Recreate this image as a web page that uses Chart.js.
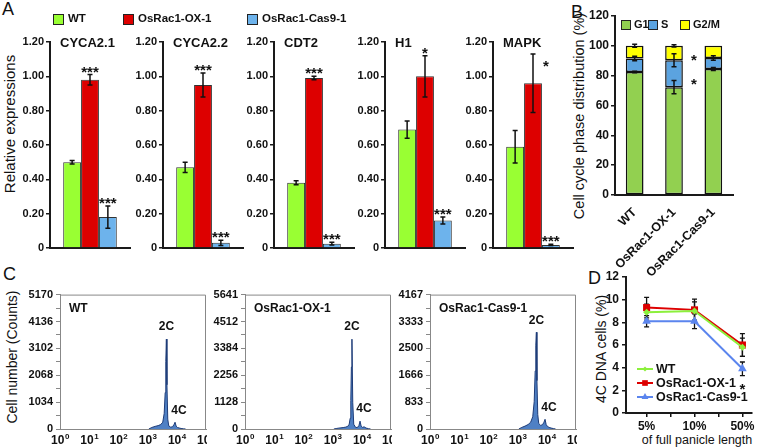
<!DOCTYPE html>
<html><head><meta charset="utf-8">
<script src="https://cdn.jsdelivr.net/npm/chart.js@4.4.1/dist/chart.umd.min.js"></script>
<style>
html,body{margin:0;padding:0;background:#fff}
body{width:757px;height:447px;position:relative;overflow:hidden;font-family:"Liberation Sans",Arial,Helvetica,sans-serif;color:#111}
.lbl{position:absolute;white-space:nowrap;line-height:1}
.rot{position:absolute;white-space:nowrap;line-height:1;transform:translate(-50%,-50%) rotate(-90deg)}
.ctr{position:absolute;white-space:nowrap;line-height:1;transform:translate(-50%,-50%)}
canvas{position:absolute}
</style></head><body>
<div class="lbl" style="left:2px;top:0px;font-size:18px">A</div>
<div class="lbl" style="left:571px;top:3px;font-size:18px">B</div>
<div class="lbl" style="left:3px;top:265px;font-size:18px">C</div>
<div class="lbl" style="left:588px;top:269px;font-size:18px">D</div>
<div class="rot" style="left:9px;top:124px;font-size:15px">Relative expressions</div>
<div class="rot" style="left:579px;top:116px;font-size:14.5px">Cell cycle phase distribution (%)</div>
<div class="rot" style="left:12px;top:357px;font-size:14px">Cell number (Counts)</div>
<div class="rot" style="left:601px;top:349px;font-size:14px">4C DNA cells (%)</div>
<div class="ctr" style="left:697px;top:440px;font-size:12.5px">of full panicle length</div>
<script>
// ---------------- DATA ----------------
const genes = ['CYCA2.1','CYCA2.2','CDT2','H1','MAPK'];
const lineNames = ['WT','OsRac1-OX-1','OsRac1-Cas9-1'];
const wtExpr  = [0.50, 0.47, 0.38, 0.69, 0.59];
const wtErr   = [0.01, 0.03, 0.012, 0.05, 0.095];
const oxExpr  = [0.98, 0.95, 0.99, 1.00, 0.96];
const oxErr   = [0.03, 0.07, 0.01, 0.12, 0.17];
const casExpr = [0.18, 0.03, 0.025, 0.16, 0.018];
const casErr  = [0.065, 0.015, 0.008, 0.02, 0.004];
const oxSig   = ['***','***','***','*','*'];
const casSig  = ['***','***','***','***','***'];
const exprTicks = [0, 0.2, 0.4, 0.6, 0.8, 1.0, 1.2];

const phaseLines = ['WT','OsRac1-OX-1','OsRac1-Cas9-1'];
const phaseNames = ['G1','S','G2/M'];
const g1Pct  = [82.5, 72.3, 84.5];
const sPct   = [9.0, 18.0, 7.3];
const g2mPct = [8.5, 9.7, 8.2];
const g1PctErr  = [0.5, 4.4, 1.0];
const sPctErr   = [1.5, 4.4, 1.5];
const g2mPctErr = [1.0, 0.8, 0.0];
const g1Sig = ['', '*', ''];
const sSig  = ['', '*', ''];
const phaseTicks = [0, 20, 40, 60, 80, 100, 120];

const histSamples = ['WT','OsRac1-OX-1','OsRac1-Cas9-1'];
const dnaContent = [1100,1400,1800,2300,2800,3300,3700,4000,4200,4400,4600,4900,5300,6200,7200,8000,8700,9500,10500,12000,14000,17000,20000];
const countsWT  = [0,60,100,130,170,260,600,1400,2600,3460,1700,380,120,70,90,170,260,110,60,40,20,8,0];
const countsOX  = [0,25,45,60,80,110,200,450,1200,2600,3770,1100,200,60,70,150,330,120,70,90,40,15,0];
const countsCas = [0,50,90,140,210,380,850,1800,2600,3000,1500,450,170,110,140,210,300,140,80,50,30,12,0];
const ticksWT  = [0,1034,2068,3102,4136,5170];
const ticksOX  = [0,1128,2256,3384,4512,5641];
const ticksCas = [0,833,1666,2500,3333,4167];
const decadeTicks = [1,10,100,1000,10000,100000];
const ploidy = ['2C','4C'];

const stages = ['5%','10%','50%'];
const fourC_WT  = [8.9, 9.0, 5.8];
const fourC_OX  = [9.3, 9.1, 6.0];
const fourC_Cas = [8.1, 8.1, 3.9];
const fourC_WTErr  = [0.7, 0.8, 0.8];
const fourC_OXErr  = [0.9, 0.95, 1.0];
const fourC_CasErr = [0.5, 0.65, 0.6];
const stageSig = ['', '', '*'];
const fourCTicks = [0,2,4,6,8,10,12];

// ---------------- SETUP ----------------
const FONT = '"Liberation Sans", Arial, Helvetica, sans-serif';
Chart.defaults.font.family = FONT;
Chart.defaults.color = '#111';
Chart.defaults.animation = false;
Chart.defaults.responsive = false;
Chart.defaults.devicePixelRatio = 1;
Chart.defaults.plugins.legend.display = false;
Chart.defaults.plugins.tooltip.enabled = false;

function makeCanvas(l,t,w,h){
  const c=document.createElement('canvas');
  c.width=w;c.height=h;
  c.style.left=l+'px';c.style.top=t+'px';c.style.width=w+'px';c.style.height=h+'px';
  document.body.appendChild(c);return c;
}
function errBar(ctx,x,yt,yb,cap){
  ctx.beginPath();ctx.moveTo(x,yt);ctx.lineTo(x,yb);
  ctx.moveTo(x-cap,yt);ctx.lineTo(x+cap,yt);
  ctx.moveTo(x-cap,yb);ctx.lineTo(x+cap,yb);ctx.stroke();
}
const colWT='#99FF33', colOX='#DD0000', colCas='#6DB3EC';

// ---------------- PANEL A ----------------
const AX=[50,163,274,385,493];
genes.forEach((g,i)=>{
  const L=AX[i],R=L+80,T=42,B=248;
  const first=i===0;
  const ml=48, mt=first?42:10, mr=first?300:4, mb=10;
  const ox=L-ml, oy=T-mt;
  const cv=makeCanvas(ox,oy,R-L+ml+mr,B-T+mt+mb);
  const vals=[wtExpr[i],oxExpr[i],casExpr[i]];
  const errs=[wtErr[i],oxErr[i],casErr[i]];
  const sigs=['',oxSig[i],casSig[i]];
  const cols=[colWT,colOX,colCas];
  new Chart(cv,{
    type:'bar',
    data:{labels:[g],datasets:lineNames.map((n,k)=>({label:n,data:[vals[k]],backgroundColor:cols[k],borderColor:'#333',borderWidth:1,categoryPercentage:0.67,barPercentage:1}))},
    options:{
      layout:{padding:{left:0,top:mt,right:mr,bottom:0}},
      scales:{
        x:{grid:{display:false},ticks:{display:false},border:{color:'#1a1a1a',width:2},afterFit:s=>{s.height=mb;}},
        y:{min:0,max:1.2,
           afterBuildTicks:s=>{s.ticks=exprTicks.map(v=>({value:v}));},
           ticks:{callback:v=>v===0?'0':Number(v).toFixed(2),font:{size:11,weight:'bold'},color:'#111',padding:2},
           grid:{drawOnChartArea:false,tickLength:4,color:'#1a1a1a',lineWidth:1.5},
           border:{color:'#1a1a1a',width:2},
           afterFit:s=>{s.width=ml;}}
      }
    },
    plugins:[{id:'aExtras',afterDatasetsDraw(chart){
      const ctx=chart.ctx,y=chart.scales.y;
      ctx.save();
      vals.forEach((v,k)=>{
        const bar=chart.getDatasetMeta(k).data[0];
        const yt=y.getPixelForValue(v+errs[k]),yb=y.getPixelForValue(Math.max(0,v-errs[k]));
        ctx.strokeStyle='#111';ctx.lineWidth=1.5;
        errBar(ctx,bar.x,yt,yb,2.5);
        if(sigs[k]){
          ctx.font='bold 15px '+FONT;ctx.fillStyle='#111';ctx.textAlign='center';ctx.textBaseline='alphabetic';
          let sx=bar.x,sy=yt+2;
          if(k===1&&i===4){sx=bar.x+bar.width/2+4;sy=yt+17;}
          ctx.fillText(sigs[k],sx,sy);
        }
      });
      ctx.font='bold 13px '+FONT;ctx.fillStyle='#111';ctx.textAlign='left';ctx.textBaseline='middle';
      ctx.fillText(g,chart.chartArea.left+10,y.getPixelForValue(1.2)+1);
      if(first){
        const items=[[53,colWT,lineNames[0]],[123,colOX,lineNames[1]],[247,colCas,lineNames[2]]];
        ctx.font='bold 11.5px '+FONT;
        items.forEach(([lx,c,t])=>{
          ctx.fillStyle=c;ctx.fillRect(lx-ox,14-oy,10,10);
          ctx.strokeStyle='#222';ctx.lineWidth=1;ctx.strokeRect(lx-ox+0.5,14-oy+0.5,10,10);
          ctx.fillStyle='#111';ctx.fillText(t,lx-ox+15,19-oy);
        });
      }
      ctx.restore();
    }}]
  });
});

// ---------------- PANEL B ----------------
(function(){
  const L=615,R=733,T=16,B=195, ml=32, mt=12, mr=24, mb=92;
  const ox=L-ml, oy=T-mt;
  const cv=makeCanvas(ox,oy,R-L+ml+mr,B-T+mt+mb);
  const series=[g1Pct,sPct,g2mPct], errs=[g1PctErr,sPctErr,g2mPctErr];
  const cols=['#92D050','#5BA3E0','#FFFF00'];
  new Chart(cv,{
    type:'bar',
    data:{labels:phaseLines,datasets:phaseNames.map((n,k)=>({label:n,data:series[k],backgroundColor:cols[k],borderColor:'#111',borderWidth:1.5,borderSkipped:false,barPercentage:0.45,categoryPercentage:1}))},
    options:{
      layout:{padding:{left:0,top:mt,right:mr,bottom:0}},
      scales:{
        x:{stacked:true,grid:{display:false},border:{color:'#1a1a1a',width:2},
           ticks:{font:{size:12.5,weight:'bold'},color:'#111',minRotation:45,maxRotation:45,autoSkip:false,padding:2},
           afterFit:s=>{s.height=mb;}},
        y:{stacked:true,min:0,max:120,
           afterBuildTicks:s=>{s.ticks=phaseTicks.map(v=>({value:v}));},
           ticks:{font:{size:12,weight:'bold'},color:'#111',padding:2},
           grid:{drawOnChartArea:false,tickLength:4,color:'#1a1a1a',lineWidth:1.5},
           border:{color:'#1a1a1a',width:2},
           afterFit:s=>{s.width=ml;}}
      }
    },
    plugins:[{id:'bExtras',afterDatasetsDraw(chart){
      const ctx=chart.ctx,y=chart.scales.y;
      ctx.save();ctx.strokeStyle='#111';ctx.lineWidth=1.5;
      phaseLines.forEach((_,j)=>{
        let cum=0;
        series.forEach((s,k)=>{
          cum+=s[j];
          const bar=chart.getDatasetMeta(k).data[j];
          const e=errs[k][j];
          if(e>0) errBar(ctx,bar.x,y.getPixelForValue(cum+e),y.getPixelForValue(cum-e),2.5);
        });
        const bar=chart.getDatasetMeta(0).data[j];
        ctx.font='bold 15px '+FONT;ctx.fillStyle='#111';ctx.textAlign='center';ctx.textBaseline='alphabetic';
        if(sSig[j]) ctx.fillText(sSig[j],bar.x+bar.width/2+11,y.getPixelForValue(g1Pct[j]+sPct[j])+5);
        if(g1Sig[j]) ctx.fillText(g1Sig[j],bar.x+bar.width/2+11,y.getPixelForValue(g1Pct[j])+2);
      });
      const lx=[621,648,680];
      ctx.font='bold 11px '+FONT;ctx.textAlign='left';ctx.textBaseline='middle';
      phaseNames.forEach((n,k)=>{
        ctx.fillStyle=cols[k];ctx.fillRect(lx[k]-ox,20-oy,9,9);
        ctx.strokeStyle='#222';ctx.lineWidth=1;ctx.strokeRect(lx[k]-ox+0.5,20-oy+0.5,9,9);
        ctx.fillStyle='#111';ctx.fillText(n,lx[k]-ox+13,25-oy);
      });
      ctx.restore();
    }}]
  });
})();

// ---------------- PANEL C ----------------
const histCounts=[countsWT,countsOX,countsCas];
const histTicks=[ticksWT,ticksOX,ticksCas];
const CL=[60,245,430];
histSamples.forEach((name,i)=>{
  const L=CL[i],R=L+146,T=293,B=429, ml=38, mt=8, mr=1, mb=18;
  const cv=makeCanvas(L-ml,T-mt,R-L+ml+mr,B-T+mt+mb);
  const tk=histTicks[i];
  const allTicks=[];
  tk.forEach((v,k)=>{allTicks.push(v); if(k<tk.length-1) allTicks.push((v+tk[k+1])/2);});
  const majors=new Set(tk);
  const counts=histCounts[i];
  new Chart(cv,{
    type:'line',
    data:{datasets:[{label:name,data:dnaContent.map((x,k)=>({x:x,y:counts[k]})),fill:'origin',backgroundColor:'#4F80C4',borderColor:'#1E3C78',borderWidth:1,pointRadius:0,tension:0}]},
    options:{
      layout:{padding:{left:0,top:mt,right:mr,bottom:0}},
      scales:{
        x:{type:'logarithmic',min:1,max:100000,
           afterBuildTicks:s=>{s.ticks=decadeTicks.map(v=>({value:v}));},
           ticks:{display:false},
           grid:{display:false,drawTicks:false},border:{color:'#888',width:1},
           afterFit:s=>{s.height=mb;}},
        y:{min:0,max:tk[tk.length-1],
           afterBuildTicks:s=>{s.ticks=allTicks.map(v=>({value:v}));},
           ticks:{callback:v=>majors.has(v)?String(v):'',font:{size:11,weight:'bold'},color:'#111',padding:3,autoSkip:false},
           grid:{drawOnChartArea:false,tickLength:4,color:'#888',lineWidth:1},
           border:{color:'#888',width:1},
           afterFit:s=>{s.width=ml;}}
      }
    },
    plugins:[{id:'cExtras',afterDraw(chart){
      const ctx=chart.ctx,a=chart.chartArea,xs=chart.scales.x,ys=chart.scales.y;
      ctx.save();
      ctx.strokeStyle='#888';ctx.lineWidth=1;
      ctx.beginPath();ctx.moveTo(a.left,a.top+0.5);ctx.lineTo(a.right-0.5,a.top+0.5);ctx.lineTo(a.right-0.5,a.bottom);ctx.stroke();
      ctx.fillStyle='#111';ctx.font='bold 12px '+FONT;ctx.textAlign='left';ctx.textBaseline='middle';
      ctx.fillText(name,a.left+9,a.top+14);
      let p2=0;counts.forEach((c,k)=>{if(c>counts[p2])p2=k;});
      let p4=-1;counts.forEach((c,k)=>{if(dnaContent[k]>6500&&(p4<0||c>counts[p4]))p4=k;});
      ctx.textAlign='center';
      ctx.fillText(ploidy[0],xs.getPixelForValue(dnaContent[p2]),ys.getPixelForValue(counts[p2])-12);
      ctx.fillText(ploidy[1],xs.getPixelForValue(dnaContent[p4])+4,ys.getPixelForValue(counts[p4])-12);
      ctx.textAlign='left';ctx.textBaseline='alphabetic';
      xs.ticks.forEach(t=>{
        const px=xs.getPixelForValue(t.value);
        const e=String(Math.round(Math.log10(t.value)));
        ctx.font='bold 12px '+FONT; const w1=ctx.measureText('10').width;
        ctx.font='bold 8px '+FONT; const w2=ctx.measureText(e).width;
        const sx=px-(w1+w2)/2, by=a.bottom+15;
        ctx.font='bold 12px '+FONT; ctx.fillText('10',sx,by);
        ctx.font='bold 8px '+FONT; ctx.fillText(e,sx+w1+0.5,by-5);
      });
      ctx.restore();
    }}]
  });
});

// ---------------- PANEL D ----------------
(function(){
  const L=626,R=755,T=277,B=413, ml=30, mt=7, mr=2, mb=20;
  const ox=L-ml, oy=T-mt;
  const cv=makeCanvas(ox,oy,R-L+ml+mr,B-T+mt+mb);
  const vals=[fourC_WT,fourC_OX,fourC_Cas], errs=[fourC_WTErr,fourC_OXErr,fourC_CasErr];
  const cols=['#8CF03C','#DD0000','#5B85EE'];
  const styles=['rectRot','rect','triangle'], radii=[3.5,5,5];
  new Chart(cv,{
    type:'line',
    data:{datasets:lineNames.map((n,k)=>({label:n,data:stages.map((s,j)=>({x:j,y:vals[k][j]})),borderColor:cols[k],backgroundColor:cols[k],borderWidth:2,pointStyle:styles[k],pointRadius:radii[k],pointBorderWidth:0,tension:0,fill:false}))},
    options:{
      layout:{padding:{left:0,top:mt,right:mr,bottom:0}},
      scales:{
        x:{type:'linear',position:'bottom',min:-0.43,max:2.2,
           afterBuildTicks:s=>{s.ticks=[0,0.5,1,1.5,2].map(v=>({value:v}));},
           ticks:{callback:v=>Number.isInteger(v)?stages[v]:'',font:{size:12,weight:'bold'},color:'#111',padding:2,autoSkip:false,maxRotation:0},
           grid:{drawOnChartArea:false,tickLength:4,lineWidth:1.5,color:'#111'},
           border:{color:'#1a1a1a',width:2},
           afterFit:s=>{s.height=mb;}},
        y:{type:'linear',position:'left',min:0,max:12,
           afterBuildTicks:s=>{s.ticks=fourCTicks.map(v=>({value:v}));},
           ticks:{display:false},
           grid:{drawOnChartArea:false,tickLength:4,color:'#1a1a1a',lineWidth:1.5},
           border:{color:'#1a1a1a',width:2},
           afterFit:s=>{s.width=ml;}}
      }
    },
    plugins:[{id:'dErr',beforeDatasetsDraw(chart){
      const ctx=chart.ctx,y=chart.scales.y;
      ctx.save();ctx.strokeStyle='#111';ctx.lineWidth=1.3;
      vals.forEach((v,k)=>{
        const meta=chart.getDatasetMeta(k);
        v.forEach((val,j)=>{
          const p=meta.data[j];
          errBar(ctx,p.x,y.getPixelForValue(val+errs[k][j]),y.getPixelForValue(val-errs[k][j]),2.5);
        });
      });
      ctx.restore();
    },afterDraw(chart){
      const ctx=chart.ctx,y=chart.scales.y,a=chart.chartArea;
      ctx.save();
      ctx.font='bold 12px '+FONT;ctx.fillStyle='#111';ctx.textAlign='right';ctx.textBaseline='middle';
      y.ticks.forEach(t=>{ ctx.fillText(String(t.value),a.left-7,y.getPixelForValue(t.value)); });
      const meta=chart.getDatasetMeta(2);
      ctx.font='bold 15px '+FONT;ctx.textAlign='center';ctx.textBaseline='alphabetic';
      stageSig.forEach((s,j)=>{ if(s){ const p=meta.data[j]; ctx.fillText(s,p.x,y.getPixelForValue(fourC_Cas[j]-fourC_CasErr[j])+18);} });
      const ly=[369,383,397];
      ctx.font='bold 12.5px '+FONT;ctx.textAlign='left';ctx.textBaseline='middle';
      lineNames.forEach((n,k)=>{
        const yy=ly[k]-oy;
        ctx.strokeStyle=cols[k];ctx.lineWidth=2;
        ctx.beginPath();ctx.moveTo(637-ox,yy);ctx.lineTo(653-ox,yy);ctx.stroke();
        ctx.fillStyle=cols[k];
        Chart.helpers.drawPoint(ctx,{pointStyle:styles[k],radius:radii[k]-1,rotation:0,borderWidth:0},645-ox,yy);
        ctx.fillStyle='#111';ctx.fillText(n,656-ox,yy+0.5);
      });
      ctx.restore();
    }}]
  });
})();
</script>
</body></html>
